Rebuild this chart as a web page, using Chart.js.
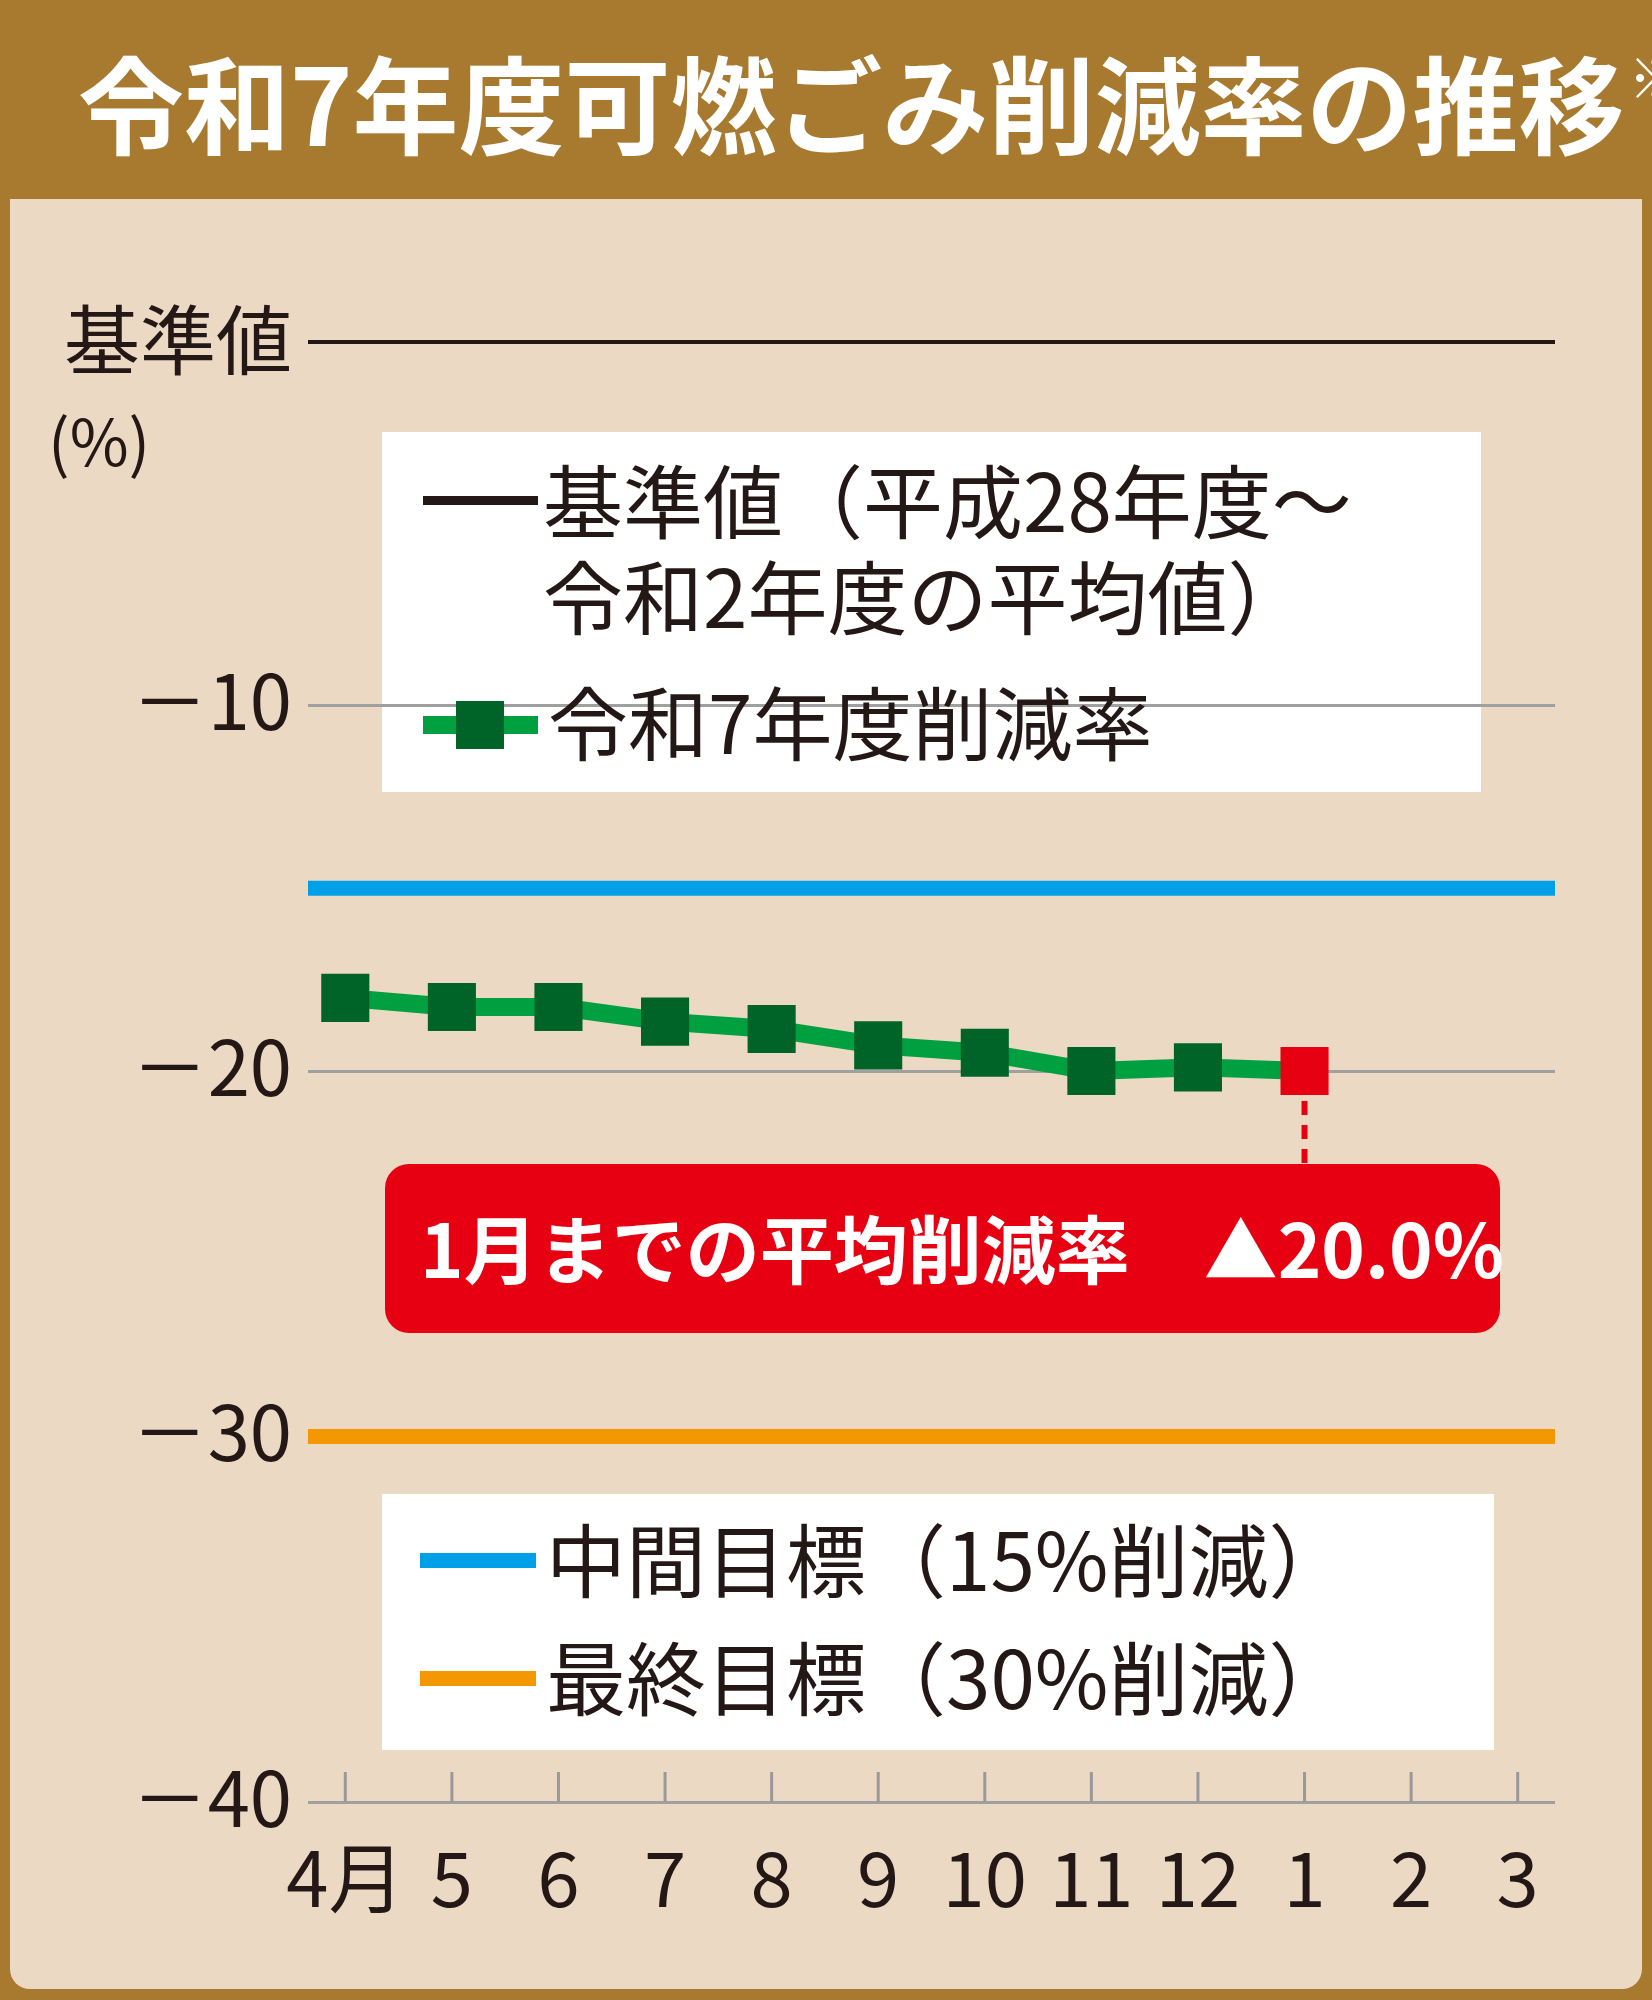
<!DOCTYPE html>
<html><head><meta charset="utf-8">
<script src="https://cdn.jsdelivr.net/npm/chart.js@4/dist/chart.umd.min.js"></script>
<style>html,body{margin:0;padding:0;background:#EBD9C3}#w{width:1652px;height:2000px}</style>
</head><body><div id="w"><canvas id="c" width="1652" height="2000"></canvas></div>
<script>
const months=['4月','5','6','7','8','9','10','11','12','1','2','3'];
const reduction=[-18.0,-18.25,-18.25,-18.65,-18.85,-19.3,-19.5,-20.0,-19.9,-20.0];
const baseline=0, midTarget=-15, finalTarget=-30;
const yTicks=[-10,-20,-30,-40];
const F='"Noto Sans CJK JP","Noto Sans",sans-serif';
const pts=reduction.map((v,i)=>({x:i,y:v}));
const hline=v=>[{x:-0.35,y:v},{x:11.35,y:v}];
const deco={id:'deco',
beforeDraw(ch){const c=ch.ctx;c.save();
 c.fillStyle='#A87A30';c.fillRect(0,0,1652,2000);
 c.fillStyle='#EBD9C3';c.beginPath();c.roundRect(10,199,1632,1790,[0,0,20,20]);c.fill();
 c.fillStyle='#fff';c.font='bold 106px '+F;c.textBaseline='middle';c.fillText('令和7年度可燃ごみ削減率の推移',78,106);
 const w=c.measureText('令和7年度可燃ごみ削減率の推移').width;c.font='bold 54px '+F;c.fillText('※',78+w+4,78);
 c.fillStyle='#fff';c.fillRect(382,432,1099,360);c.fillRect(382,1494,1112,256);
 c.restore();},
afterDraw(ch){const c=ch.ctx,x=ch.scales.x,y=ch.scales.y;c.save();
 c.strokeStyle='#999';c.lineWidth=3;
 months.forEach((m,i)=>{const px=x.getPixelForValue(i);c.beginPath();c.moveTo(px,y.bottom-30);c.lineTo(px,y.bottom);c.stroke();});
 c.fillStyle='#231815';c.textBaseline='middle';c.font='76px '+F;c.textAlign='right';
 yTicks.forEach(v=>c.fillText('－'+Math.abs(v),292,y.getPixelForValue(v)-4));
 c.fillText('基準値',292,y.getPixelForValue(0));
 c.textAlign='left';c.font='64px '+F;c.fillText('(%)',48,442);
 c.textAlign='center';c.font='76px '+F;
 months.forEach((m,i)=>c.fillText(m,x.getPixelForValue(i),1878));
 c.textAlign='left';c.font='80px '+F;
 c.fillStyle='#231815';c.fillRect(423,496,115,9);
 c.fillText('基準値（平成28年度～',543,502);c.fillText('令和2年度の平均値）',543,598);
 c.fillStyle='#00A040';c.fillRect(423,716,115,18);c.fillStyle='#006428';c.fillRect(456,701,48,48);
 c.fillStyle='#231815';c.fillText('令和7年度削減率',548,724);
 c.fillStyle='#00A0E9';c.fillRect(420,1553,116,15);c.fillStyle='#F39800';c.fillRect(420,1671,116,15);
 c.fillStyle='#231815';c.fillText('中間目標（15%削減）',546,1561);c.fillText('最終目標（30%削減）',546,1679);
 const lx=x.getPixelForValue(9),ly=y.getPixelForValue(-20);
 c.strokeStyle='#E60012';c.lineWidth=6;c.setLineDash([14,10]);c.beginPath();c.moveTo(lx,ly+30);c.lineTo(lx,1164);c.stroke();c.setLineDash([]);
 c.fillStyle='#E60012';c.beginPath();c.roundRect(385,1164,1115,169,24);c.fill();
 c.fillStyle='#fff';c.font='bold 74px '+F;c.fillText('1月までの平均削減率　▲20.0%',420,1250);
 c.restore();}};
new Chart(document.getElementById('c'),{type:'scatter',
data:{datasets:[
 {data:hline(baseline),showLine:true,borderColor:'#231815',borderWidth:8,pointRadius:0,order:3},
 {data:hline(midTarget),showLine:true,borderColor:'#00A0E9',borderWidth:15,pointRadius:0,order:3},
 {data:hline(finalTarget),showLine:true,borderColor:'#F39800',borderWidth:15,pointRadius:0,order:3},
 {data:pts,showLine:true,borderColor:'#00A040',borderWidth:18,pointStyle:'rect',pointRadius:34,
  pointBackgroundColor:reduction.map((v,i)=>i===reduction.length-1?'#E60012':'#006428'),pointBorderWidth:0,order:1}
]},
options:{responsive:false,animation:false,events:[],
 layout:{padding:{left:308,right:97,top:340,bottom:190}},
 plugins:{legend:{display:false},tooltip:{enabled:false}},
 scales:{
  x:{type:'linear',min:-0.35,max:11.35,display:true,ticks:{display:false},grid:{display:false},border:{display:false}},
  y:{min:-40,max:0,ticks:{display:false,stepSize:10},border:{display:false},
     grid:{color:c=>c.tick.value===0?'rgba(0,0,0,0)':'#A0A0A0',lineWidth:3,drawTicks:false}}
 }},
plugins:[deco]});
</script></body></html>
